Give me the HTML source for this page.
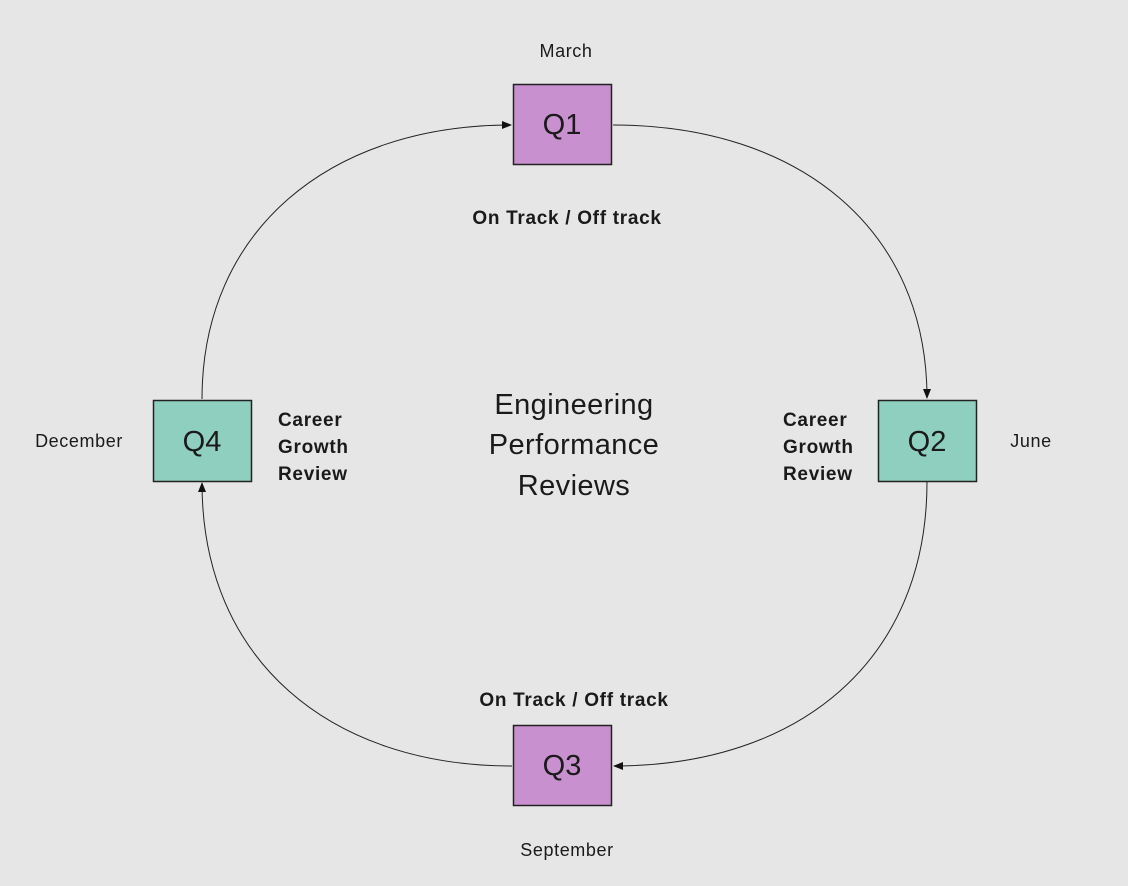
<!DOCTYPE html>
<html><head><meta charset="utf-8"><style>
html,body{margin:0;padding:0;background:#e6e6e6;}
svg{display:block;}
text{font-family:"Liberation Sans",sans-serif;fill:#1a1a1a;}
</style></head><body>
<svg width="1128" height="886" viewBox="0 0 1128 886" xmlns="http://www.w3.org/2000/svg">
<defs><marker id="a" markerWidth="10" markerHeight="8" refX="9" refY="4" orient="auto" markerUnits="userSpaceOnUse"><path d="M0,0 L10,4 L0,8 Z" fill="#111"/></marker></defs>
<rect x="0" y="0" width="1128" height="886" fill="#e6e6e6"/>
<g fill="none" stroke="#222" stroke-width="1">
<path d="M613,125 C800,125 927,230 927,398" marker-end="url(#a)"/>
<path d="M927,482 C927,660 800,766 614,766" marker-end="url(#a)"/>
<path d="M512,766 C330,766 202,660 202,483" marker-end="url(#a)"/>
<path d="M202,399 C202,230 330,125 511,125" marker-end="url(#a)"/>
</g>
<g stroke="#222" stroke-width="1.5">
<rect x="513.5" y="84.5" width="98" height="80" fill="#c990d0"/>
<rect x="513.5" y="725.5" width="98" height="80" fill="#c990d0"/>
<rect x="878.5" y="400.5" width="98" height="81" fill="#8fcfbf"/>
<rect x="153.5" y="400.5" width="98" height="81" fill="#8fcfbf"/>
</g>
<g font-size="29" text-anchor="middle">
<text x="562" y="134">Q1</text>
<text x="562" y="775">Q3</text>
<text x="927" y="451">Q2</text>
<text x="202" y="451">Q4</text>
</g>
<g font-size="18" text-anchor="middle" letter-spacing="0.6">
<text x="566" y="57">March</text>
<text x="567" y="856">September</text>
<text x="1031" y="447">June</text>
<text x="79" y="447">December</text>
</g>
<g font-size="19" font-weight="bold" letter-spacing="0.7">
<text x="567" y="224" text-anchor="middle">On Track / Off track</text>
<text x="574" y="706" text-anchor="middle">On Track / Off track</text>
<text x="278" y="426">Career</text><text x="278" y="453">Growth</text><text x="278" y="480">Review</text>
<text x="783" y="426">Career</text><text x="783" y="453">Growth</text><text x="783" y="480">Review</text>
</g>
<g font-size="29" text-anchor="middle" letter-spacing="0.4">
<text x="574" y="414">Engineering</text>
<text x="574" y="454">Performance</text>
<text x="574" y="495">Reviews</text>
</g>
</svg>
</body></html>
